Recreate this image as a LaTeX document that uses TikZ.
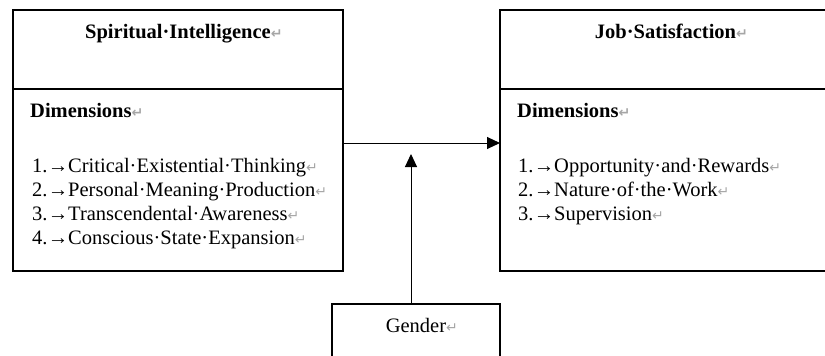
\documentclass[tikz,border=0pt]{standalone}
\usepackage{fontspec}
\setmainfont{Liberation Serif}
\newfontfamily\markfont{DejaVu Sans}
\usetikzlibrary{arrows.meta}
\newcommand{\pmark}{\rlap{\textcolor{black!35}{\markfont\fontsize{14}{14}\selectfont ↵}}}
\newcommand{\tabno}[1]{\makebox[16pt][l]{#1.}\makebox[20pt][c]{→}}
\begin{document}
\begin{tikzpicture}[x=1pt,y=-1pt,font=\fontsize{20.5}{24}\selectfont]
\tikzset{box/.style={draw,line width=1.5pt,inner sep=0pt,outer sep=0pt},
  txt/.style={inner sep=0pt,anchor=base west},
  link/.style={-{Triangle[length=13pt,width=12pt]},line width=1pt}}
\useasboundingbox (0,0) rectangle (825,356);
\clip (0,0) rectangle (825,356);
\node[box,minimum width=330pt,minimum height=79pt](sihead) at (178,49.5){};
\node[box,minimum width=330pt,minimum height=182pt](sibody) at (178,180){};
\node[box,minimum width=331pt,minimum height=79pt](jshead) at (665.5,49.5){};
\node[box,minimum width=331pt,minimum height=182pt](jsbody) at (665.5,180){};
\node[box,minimum width=168pt,minimum height=76pt](gender) at (416,342){};
% titles
\node[inner sep=0pt,anchor=base,font=\fontsize{20.5}{24}\selectfont\bfseries](sititle) at (178,38){Spiritual·Intelligence\pmark};
\node[inner sep=0pt,anchor=base,font=\fontsize{20.5}{24}\selectfont\bfseries](jstitle) at (665.5,38){Job·Satisfaction\pmark};
\node[txt,font=\fontsize{20.5}{24}\selectfont\bfseries](sidim) at (30,117){Dimensions\pmark};
\node[txt,font=\fontsize{20.5}{24}\selectfont\bfseries](jsdim) at (517,117){Dimensions\pmark};
% left list
\node[txt](si1) at (32,172){\tabno{1}Critical·Existential·Thinking\pmark};
\node[txt](si2) at (32,196){\tabno{2}Personal·Meaning·Production\pmark};
\node[txt](si3) at (32,220){\tabno{3}Transcendental·Awareness\pmark};
\node[txt](si4) at (32,244){\tabno{4}Conscious·State·Expansion\pmark};
% right list
\node[txt](js1) at (518,172){\tabno{1}Opportunity·and·Rewards\pmark};
\node[txt](js2) at (518,196){\tabno{2}Nature·of·the·Work\pmark};
\node[txt](js3) at (518,220){\tabno{3}Supervision\pmark};
\node[inner sep=0pt,anchor=base](gtext) at (416,332){Gender\pmark};
% connectors
\coordinate (mid) at (0,143);
\coordinate (gtip) at (411,154);
\draw[link] (sibody.east |- mid) -- (jsbody.west |- mid);
\draw[link] (gender.north -| gtip) -- (gtip);
\end{tikzpicture}
\end{document}
